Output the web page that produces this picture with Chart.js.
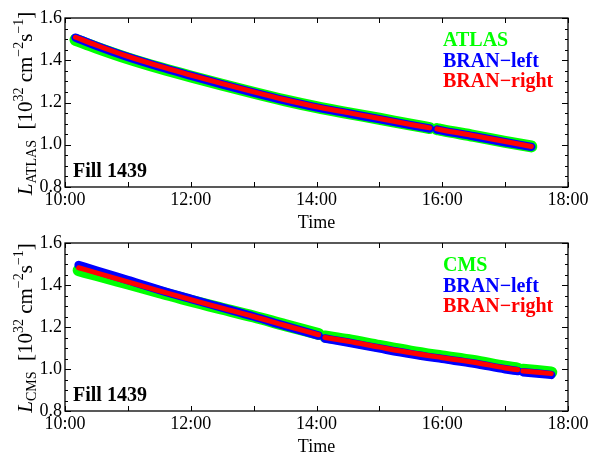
<!DOCTYPE html>
<html lang="en">
<head>
    <meta charset="UTF-8">
    <title>Fill 1439 luminosity</title>
    <script src="https://cdn.jsdelivr.net/npm/chart.js"></script>
    <style>
        body { margin: 0; background: #fff; }
        .panel { position: absolute; left: 0; width: 591px; }
        #top { top: 0; height: 228px; }
        #bottom { top: 228px; height: 227px; }
    </style>
</head>
<body>
    <div class="panel" id="top"><canvas id="atlasChart"></canvas></div>
    <div class="panel" id="bottom"><canvas id="cmsChart"></canvas></div>

    <script>
        // --- data (time as hh:mm, luminosity in 1e32 cm^-2 s^-1) ---
        // null marks the short gap in the data
        const atlasTimes = ['10:10', '10:30', '11:00', '11:30', '12:00', '12:30', '13:00', '13:30', '14:00', '14:30',
                            '15:00', '15:30', '15:48', '15:52', '15:55', '16:00', '16:30', '17:00', '17:25'];
        const atlasLumi  = [1.497, 1.460, 1.409, 1.364, 1.323, 1.284, 1.246, 1.210, 1.178, 1.150,
                            1.123, 1.095, 1.079, null, 1.074, 1.069, 1.042, 1.014, 0.992];
        const atlasBranLeft  = [1.507, 1.468, 1.415, 1.369, 1.327, 1.286, 1.247, 1.210, 1.177, 1.149,
                                1.121, 1.093, 1.077, null, 1.072, 1.067, 1.040, 1.012, 0.990];
        const atlasBranRight = [1.509, 1.471, 1.418, 1.372, 1.330, 1.289, 1.250, 1.213, 1.180, 1.152,
                                1.124, 1.096, 1.080, null, 1.075, 1.070, 1.043, 1.015, 0.992];

        const cmsTimes = ['10:13', '10:30', '11:00', '11:30', '12:00', '12:30', '13:00', '13:30', '14:02', '14:05',
                          '14:08', '14:30', '15:00', '15:30', '16:00', '16:30', '17:00', '17:12', '17:15', '17:17', '17:44'];
        const cmsLumi  = [1.470, 1.448, 1.407, 1.366, 1.325, 1.287, 1.250, 1.209, 1.167, null,
                          1.155, 1.138, 1.110, 1.083, 1.060, 1.038, 1.011, 1.002, null, 0.997, 0.984];
        const cmsBranLeft  = [1.495, 1.469, 1.423, 1.377, 1.334, 1.292, 1.250, 1.205, 1.159, null,
                              1.145, 1.126, 1.098, 1.071, 1.048, 1.026, 0.999, 0.990, null, 0.985, 0.972];
        const cmsBranRight = [1.482, 1.458, 1.415, 1.372, 1.330, 1.290, 1.250, 1.207, 1.163, null,
                              1.150, 1.132, 1.104, 1.077, 1.054, 1.032, 1.005, 0.996, null, 0.991, 0.978];

        // axis ticks
        const hourTicks = [10, 11, 12, 13, 14, 15, 16, 17, 18];
        const lumiMajor = [0.8, 1.0, 1.2, 1.4, 1.6];
        const lumiMinor = [0.85, 0.9, 0.95, 1.05, 1.1, 1.15, 1.25, 1.3, 1.35, 1.45, 1.5, 1.55];

        const SERIF = '"Liberation Serif", "DejaVu Serif", serif';

        function toHours(t) {
            const [h, m] = t.split(':').map(Number);
            return h + m / 60;
        }

        function points(times, values) {
            return times.map((t, i) => ({ x: toHours(t), y: values[i] }));
        }

        // frame, inward ticks, axis title, legend text
        const decorPlugin = {
            id: 'decor',
            afterDraw(chart, args, opts) {
                const ctx = chart.ctx;
                const { left, right, top, bottom } = chart.chartArea;
                const x = chart.scales.x, y = chart.scales.y;
                ctx.save();
                ctx.strokeStyle = '#000';
                ctx.lineWidth = 1.3;
                ctx.strokeRect(left, top, right - left, bottom - top);

                ctx.lineWidth = 1;
                ctx.beginPath();
                hourTicks.forEach(h => {
                    const px = Math.round(x.getPixelForValue(h)) + 0.5;
                    ctx.moveTo(px, bottom); ctx.lineTo(px, bottom - 5);
                    ctx.moveTo(px, top); ctx.lineTo(px, top + 5);
                });
                lumiMajor.forEach(v => {
                    const py = Math.round(y.getPixelForValue(v)) + 0.5;
                    ctx.moveTo(left, py); ctx.lineTo(left + 6, py);
                    ctx.moveTo(right, py); ctx.lineTo(right - 6, py);
                });
                lumiMinor.forEach(v => {
                    const py = Math.round(y.getPixelForValue(v)) + 0.5;
                    ctx.moveTo(left, py); ctx.lineTo(left + 3, py);
                    ctx.moveTo(right, py); ctx.lineTo(right - 3, py);
                });
                ctx.stroke();

                // x title
                ctx.fillStyle = '#000';
                ctx.font = '18px ' + SERIF;
                ctx.textAlign = 'center';
                ctx.textBaseline = 'alphabetic';
                ctx.fillText('Time', (left + right) / 2, bottom + 41);

                // "Fill 1439"
                ctx.textAlign = 'left';
                ctx.font = 'bold 20px ' + SERIF;
                ctx.fillText('Fill 1439', left + 8, bottom - 10);

                // legend
                opts.legend.forEach((item, i) => {
                    ctx.fillStyle = item.color;
                    ctx.fillText(item.text, 443, top + 28 + i * 20.5);
                });

                // y title with sub/superscripts
                const parts = [
                    { t: 'L', f: 'italic 21px ' + SERIF, dy: 0 },
                    { t: opts.sub, f: '14px ' + SERIF, dy: 4 },
                    { t: '  [10', f: '21px ' + SERIF, dy: 0 },
                    { t: '32', f: '14px ' + SERIF, dy: -9 },
                    { t: ' cm', f: '21px ' + SERIF, dy: 0 },
                    { t: '\u22122', f: '14px ' + SERIF, dy: -9 },
                    { t: 's', f: '21px ' + SERIF, dy: 0 },
                    { t: '\u22121', f: '14px ' + SERIF, dy: -9 },
                    { t: ']', f: '21px ' + SERIF, dy: 0 }
                ];
                let total = 0;
                parts.forEach(p => { ctx.font = p.f; p.w = ctx.measureText(p.t).width; total += p.w; });
                ctx.fillStyle = '#000';
                ctx.translate(32, (top + bottom) / 2 + 1);
                ctx.rotate(-Math.PI / 2);
                let cx = -total / 2;
                parts.forEach(p => {
                    ctx.font = p.f;
                    ctx.fillText(p.t, cx, p.dy);
                    cx += p.w;
                });
                ctx.restore();
            }
        };

        function makeChart(canvasId, times, main, left, right, mainName, padTop, xHeight) {
            const ctx = document.getElementById(canvasId).getContext('2d');
            const line = (label, data, color, width) => ({
                label: label,
                data: points(times, data),
                borderColor: color,
                backgroundColor: color,
                borderWidth: width,
                borderCapStyle: 'round',
                borderJoinStyle: 'round',
                pointRadius: 0,
                cubicInterpolationMode: 'monotone',
                spanGaps: false
            });
            return new Chart(ctx, {
                type: 'line',
                data: {
                    // first dataset is drawn on top
                    datasets: [
                        line('BRAN-right', right, '#ff0000', 5),
                        line('BRAN-left', left, '#0000ff', 8.5),
                        line(mainName, main, '#00ff00', 12)
                    ]
                },
                options: {
                    responsive: true,
                    maintainAspectRatio: false,
                    animation: false,
                    layout: { padding: { top: padTop, right: 23, left: 0, bottom: 0 } },
                    plugins: {
                        legend: { display: false },
                        tooltip: { enabled: false },
                        decor: {
                            sub: mainName,
                            legend: [
                                { text: mainName, color: '#00ff00' },
                                { text: 'BRAN\u2212left', color: '#0000ff' },
                                { text: 'BRAN\u2212right', color: '#ff0000' }
                            ]
                        }
                    },
                    scales: {
                        x: {
                            type: 'linear',
                            min: 10,
                            max: 18,
                            grid: { display: false, drawTicks: false },
                            border: { display: false },
                            ticks: {
                                stepSize: 2,
                                padding: 2,
                                maxRotation: 0,
                                color: '#000',
                                font: { family: SERIF, size: 18 },
                                callback: v => v + ':00'
                            },
                            afterFit: s => { s.height = xHeight; }
                        },
                        y: {
                            min: 0.8,
                            max: 1.6,
                            grid: { display: false, drawTicks: false },
                            border: { display: false },
                            ticks: {
                                stepSize: 0.2,
                                padding: 3,
                                color: '#000',
                                font: { family: SERIF, size: 18 },
                                callback: v => v.toFixed(1)
                            },
                            afterFit: s => { s.width = 65; }
                        }
                    }
                },
                plugins: [decorPlugin]
            });
        }

        makeChart('atlasChart', atlasTimes, atlasLumi, atlasBranLeft, atlasBranRight, 'ATLAS', 18, 41);
        makeChart('cmsChart', cmsTimes, cmsLumi, cmsBranLeft, cmsBranRight, 'CMS', 15, 44);
    </script>
</body>
</html>
